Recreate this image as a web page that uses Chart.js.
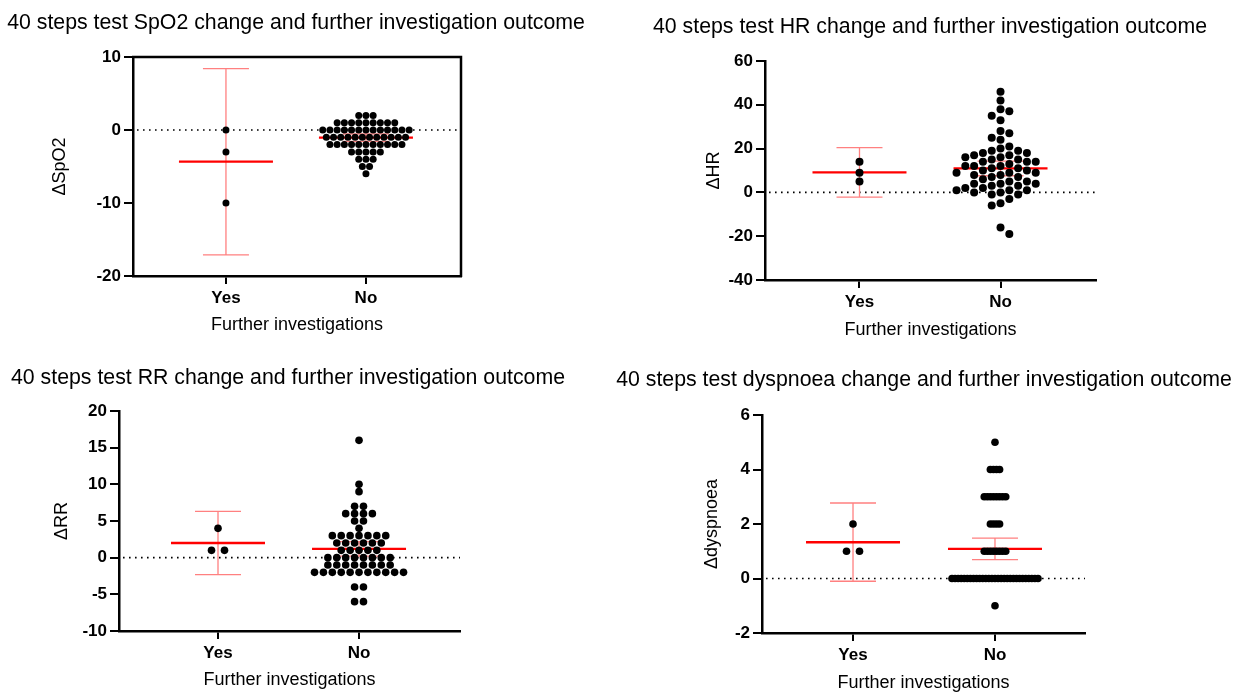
<!DOCTYPE html>
<html><head><meta charset="utf-8">
<script src="https://cdn.jsdelivr.net/npm/chart.js@4.4.1/dist/chart.umd.min.js"></script>
<style>
html,body{margin:0;padding:0;background:#fff;width:1241px;height:693px;overflow:hidden;}
canvas{position:absolute;}
</style></head><body>
<canvas id="c1"></canvas><canvas id="c2"></canvas><canvas id="c3"></canvas><canvas id="c4"></canvas>
<script>
// ---------- data ----------
const groups = ['Yes', 'No'];
const xTitle = 'Further investigations';
const titles = [
  '40 steps test SpO2 change and further investigation outcome',
  '40 steps test HR change and further investigation outcome',
  '40 steps test RR change and further investigation outcome',
  '40 steps test dyspnoea change and further investigation outcome'
];
const yLabels = ['\u0394SpO2', '\u0394HR', '\u0394RR', '\u0394dyspnoea'];

// SpO2
const spo2Yes = [0, -3, -10];
const spo2No = [2, 2, 2,
  1, 1, 1, 1, 1, 1, 1, 1, 1,
  0, 0, 0, 0, 0, 0, 0, 0, 0, 0, 0, 0, 0,
  -1, -1, -1, -1, -1, -1, -1, -1, -1, -1, -1, -1,
  -2, -2, -2, -2, -2, -2, -2, -2, -2, -2, -2,
  -3, -3, -3, -3, -3,
  -4, -4, -4,
  -5, -5,
  -6];
const spo2Mean = [-4.33, -1.05];
const spo2Low = [-17.1, -1.55];
const spo2High = [8.4, -0.55];
const spo2Ticks = [-20, -10, 0, 10];

// HR
const hrYes = [14, 9, 5];
const hrNo = [46, 42, 38, 37, 35, 33, 28, 27, 25, 24,
  21, 20, 19, 19, 18, 18, 17, 17, 16, 16, 15, 15,
  14, 14, 14, 13, 12, 12, 12, 11, 11, 10, 10,
  9, 9, 9, 8, 8, 7, 7, 6, 5, 5,
  4, 4, 4, 3, 3, 2, 2, 1, 1, 1, 0, 0,
  -1, -1, -3, -5, -6, -16, -19];
const hrMean = [9.1, 11.0];
const hrLow = [-2.2, 7.6];
const hrHigh = [20.4, 14.3];
const hrTicks = [-40, -20, 0, 20, 40, 60];

// RR
const rrYes = [4, 1, 1];
const rrNo = [16, 10, 9, 7, 7, 6, 6, 6, 6, 5, 5, 4,
  3, 3, 3, 3, 3, 3, 3,
  2, 2, 2, 2, 2, 2,
  1, 1, 1, 1, 1,
  0, 0, 0, 0, 0, 0, 0, 0,
  -1, -1, -1, -1, -1, -1, -1, -1,
  -2, -2, -2, -2, -2, -2, -2, -2, -2, -2, -2,
  -4, -4, -6, -6];
const rrMean = [2.0, 1.2];
const rrLow = [-2.3, 0.2];
const rrHigh = [6.3, 2.2];
const rrTicks = [-10, -5, 0, 5, 10, 15, 20];

// Dyspnoea
const dyspYes = [2, 1, 1];
const dyspNo = [5, 4, 4, 4, 4,
  3, 3, 3, 3, 3, 3, 3, 3,
  2, 2, 2, 2,
  1, 1, 1, 1, 1, 1, 1, 1,
  0, 0, 0, 0, 0, 0, 0, 0, 0, 0, 0, 0, 0, 0, 0, 0, 0, 0, 0, 0, 0, 0, 0, 0, 0, 0, 0, 0, 0,
  -1];
const dyspMean = [1.33, 1.09];
const dyspLow = [-0.1, 0.69];
const dyspHigh = [2.77, 1.48];
const dyspTicks = [-2, 0, 2, 4, 6];

// ---------- layout / style ----------
const FONT = "'Liberation Sans', Arial, Helvetica, sans-serif";
const TITLE_SIZE = 21.3, AX_SIZE = 18, TICK_SIZE = 17;

const panels = [
  {id:'c1', left:0, top:0, w:592, h:345, area:{l:133, r:461, t:57, b:276}, titleBase:28.5, yTitleX:60, xTitleY:325,
   xr:[0.336, 2.679], yMin:-20, yMax:10, yTicks:spo2Ticks, yes:spo2Yes, no:spo2No,
   means:spo2Mean, lows:spo2Low, highs:spo2High, box:true, r:3.5, mode:'rows', noSp:7.2, yesSp:13, maxSpan:90,
   title:titles[0], yLabel:yLabels[0]},
  {id:'c2', left:620, top:0, w:620, h:345, area:{l:765, r:1096, t:61, b:280}, titleBase:33, yTitleX:714, xTitleY:330,
   xr:[0.330, 2.677], yMin:-40, yMax:60, yTicks:hrTicks, yes:hrYes, no:hrNo,
   means:hrMean, lows:hrLow, highs:hrHigh, box:false, r:4, mode:'greedy', noSp:8.8, yesSp:8.8, collide:8, maxSpan:90,
   title:titles[1], yLabel:yLabels[1]},
  {id:'c3', left:0, top:350, w:576, h:343, area:{l:119, r:460, t:411, b:631}, titleBase:384, yTitleX:62, xTitleY:680,
   xr:[0.298, 2.716], yMin:-10, yMax:20, yTicks:rrTicks, yes:rrYes, no:rrNo,
   means:rrMean, lows:rrLow, highs:rrHigh, box:false, r:3.8, mode:'rows', noSp:8.9, yesSp:13, maxSpan:90,
   title:titles[2], yLabel:yLabels[2]},
  {id:'c4', left:612, top:350, w:624, h:343, area:{l:762, r:1085, t:415, b:633}, titleBase:386, yTitleX:712, xTitleY:683,
   xr:[0.359, 2.634], yMin:-2, yMax:6, yTicks:dyspTicks, yes:dyspYes, no:dyspNo,
   means:dyspMean, lows:dyspLow, highs:dyspHigh, box:false, r:3.8, mode:'rows', noSp:8.9, yesSp:13, maxSpan:86,
   title:titles[3], yLabel:yLabels[3]}
];

// ---------- plugins ----------
const swarmPlugin = {
  id: 'swarm',
  afterDatasetsUpdate(chart) {
    chart.data.datasets.forEach((ds, di) => {
      const cfg = ds.swarm; if (!cfg) return;
      const els = chart.getDatasetMeta(di).data;
      const n = els.length;
      const idx = [...Array(n).keys()].sort((a, b) => els[a].y - els[b].y);
      const slots = new Array(n).fill(0);
      let s = cfg.spacing;
      if (cfg.mode === 'rows') {
        const rows = [];
        idx.forEach(i => {
          const last = rows[rows.length - 1];
          if (last && Math.abs(els[i].y - els[last[0]].y) < 0.5) last.push(i); else rows.push([i]);
        });
        const nmax = Math.max(...rows.map(r => r.length));
        if (nmax > 1 && (nmax - 1) * s > cfg.maxSpan) s = cfg.maxSpan / (nmax - 1);
        rows.forEach(r => r.forEach((i, k) => { slots[i] = k - (r.length - 1) / 2; }));
      } else {
        const placed = [];
        let balance = 0;
        idx.forEach(i => {
          const yy = els[i].y;
          const free = sl => placed.every(p => p.slot !== sl || Math.abs(p.y - yy) >= cfg.collide);
          let chosen = free(0) ? 0 : null;
          for (let k = 1; chosen === null; k++) {
            const fp = free(k), fm = free(-k);
            if (fp && fm) chosen = balance <= 0 ? k : -k;
            else if (fp) chosen = k;
            else if (fm) chosen = -k;
          }
          balance += Math.sign(chosen);
          placed.push({slot: chosen, y: yy});
          slots[i] = chosen;
        });
      }
      els.forEach((el, i) => { el.x = el.x + slots[i] * s; });
    });
  }
};

const statsPlugin = {
  id: 'stats',
  beforeDatasetsDraw(chart, args, o) {
    const {ctx, chartArea: ca, scales: {x, y}} = chart;
    ctx.save();
    const y0 = y.getPixelForValue(0);
    ctx.beginPath();
    ctx.setLineDash([1.6, 4.4]);
    ctx.lineWidth = 1.6;
    ctx.strokeStyle = '#000';
    ctx.moveTo(ca.left + 4, y0); ctx.lineTo(ca.right, y0);
    ctx.stroke();
    ctx.setLineDash([]);
    o.means.forEach((m, i) => {
      const cx = x.getPixelForValue(i + 1);
      const yl = y.getPixelForValue(o.lows[i]);
      const yh = y.getPixelForValue(o.highs[i]);
      const ym = y.getPixelForValue(m);
      ctx.strokeStyle = '#ff8080';
      ctx.lineWidth = 1.3;
      ctx.beginPath();
      ctx.moveTo(cx, yh); ctx.lineTo(cx, yl);
      ctx.moveTo(cx - o.capHalf, yh); ctx.lineTo(cx + o.capHalf, yh);
      ctx.moveTo(cx - o.capHalf, yl); ctx.lineTo(cx + o.capHalf, yl);
      ctx.stroke();
      ctx.strokeStyle = '#ff0000';
      ctx.lineWidth = 2.3;
      ctx.beginPath();
      ctx.moveTo(cx - o.meanHalf, ym); ctx.lineTo(cx + o.meanHalf, ym);
      ctx.stroke();
    });
    ctx.restore();
  },
  afterDraw(chart, args, o) {
    const {ctx, chartArea: ca} = chart;
    ctx.save();
    if (o.box) {
      ctx.strokeStyle = '#000';
      ctx.lineWidth = 2.5;
      ctx.beginPath();
      ctx.moveTo(ca.left - 1, ca.top); ctx.lineTo(ca.right, ca.top); ctx.lineTo(ca.right, ca.bottom + 1);
      ctx.stroke();
    }
    // panel heading (drawn without width squeezing)
    ctx.fillStyle = '#000';
    ctx.font = 'normal ' + TITLE_SIZE + 'px ' + FONT;
    ctx.textAlign = 'center';
    ctx.textBaseline = 'alphabetic';
    ctx.fillText(o.title, chart.width / 2, o.titleBase);
    ctx.restore();
  }
};

// ---------- build ----------
function makeChart(p) {
  const canvas = document.getElementById(p.id);
  canvas.width = p.w; canvas.height = p.h;
  canvas.style.left = p.left + 'px'; canvas.style.top = p.top + 'px';
  canvas.style.width = p.w + 'px'; canvas.style.height = p.h + 'px';
  const lhA = AX_SIZE * 1.2;
  const a = {l: p.area.l - p.left, r: p.area.r - p.left, t: p.area.t - p.top, b: p.area.b - p.top};
  const yTX = p.yTitleX - p.left, xTY = p.xTitleY - p.top;
  const padLeft = yTX - lhA / 2;
  const yW = a.l - padLeft;
  const padRight = p.w - a.r;
  const padBottom = p.h - (xTY + lhA / 2);
  const xH = xTY + lhA / 2 - a.b;

  const mkDs = (vals, gi, sp) => ({
    data: vals.map(v => ({x: gi + 1, y: v})),
    swarm: {mode: p.mode, spacing: sp, maxSpan: p.maxSpan, collide: p.collide},
    pointRadius: p.r, pointHoverRadius: p.r,
    backgroundColor: '#000', borderColor: '#000', borderWidth: 0
  });

  const tickFont = {family: FONT, size: TICK_SIZE, weight: 'bold'};
  const axFont = {family: FONT, size: AX_SIZE, weight: 'normal', lineHeight: 1.2};

  return new Chart(canvas, {
    type: 'scatter',
    data: {datasets: [mkDs(p.yes, 0, p.yesSp), mkDs(p.no, 1, p.noSp)]},
    options: {
      responsive: false, animation: false, events: [],
      layout: {padding: {left: padLeft, right: padRight, top: a.t, bottom: padBottom}},
      plugins: {
        legend: {display: false}, tooltip: {enabled: false}, title: {display: false},
        stats: {means: p.means, lows: p.lows, highs: p.highs, meanHalf: 47, capHalf: 23, box: p.box,
                title: p.title, titleBase: p.titleBase - p.top}
      },
      scales: {
        x: {
          type: 'linear', min: p.xr[0], max: p.xr[1],
          afterFit: s => { s.height = xH; },
          afterBuildTicks: s => { s.ticks = groups.map((g, i) => ({value: i + 1})); },
          ticks: {callback: v => groups[v - 1] ?? '', font: tickFont, color: '#000', padding: 4, maxRotation: 0, autoSkip: false},
          grid: {display: true, drawOnChartArea: false, drawTicks: true, tickLength: 8, color: '#000', lineWidth: 2},
          border: {display: true, color: '#000', width: 2.5},
          title: {display: true, text: xTitle, font: axFont, color: '#000', padding: 0}
        },
        y: {
          type: 'linear', min: p.yMin, max: p.yMax,
          afterFit: s => { s.width = yW; },
          afterBuildTicks: s => { s.ticks = p.yTicks.map(v => ({value: v})); },
          ticks: {font: tickFont, color: '#000', padding: 3, autoSkip: false},
          grid: {display: true, drawOnChartArea: false, drawTicks: true, tickLength: 9, color: '#000', lineWidth: 2},
          border: {display: true, color: '#000', width: 2.5},
          title: {display: true, text: p.yLabel, font: axFont, color: '#000', padding: 0}
        }
      }
    },
    plugins: [swarmPlugin, statsPlugin]
  });
}

panels.forEach(makeChart);
</script>
</body></html>
